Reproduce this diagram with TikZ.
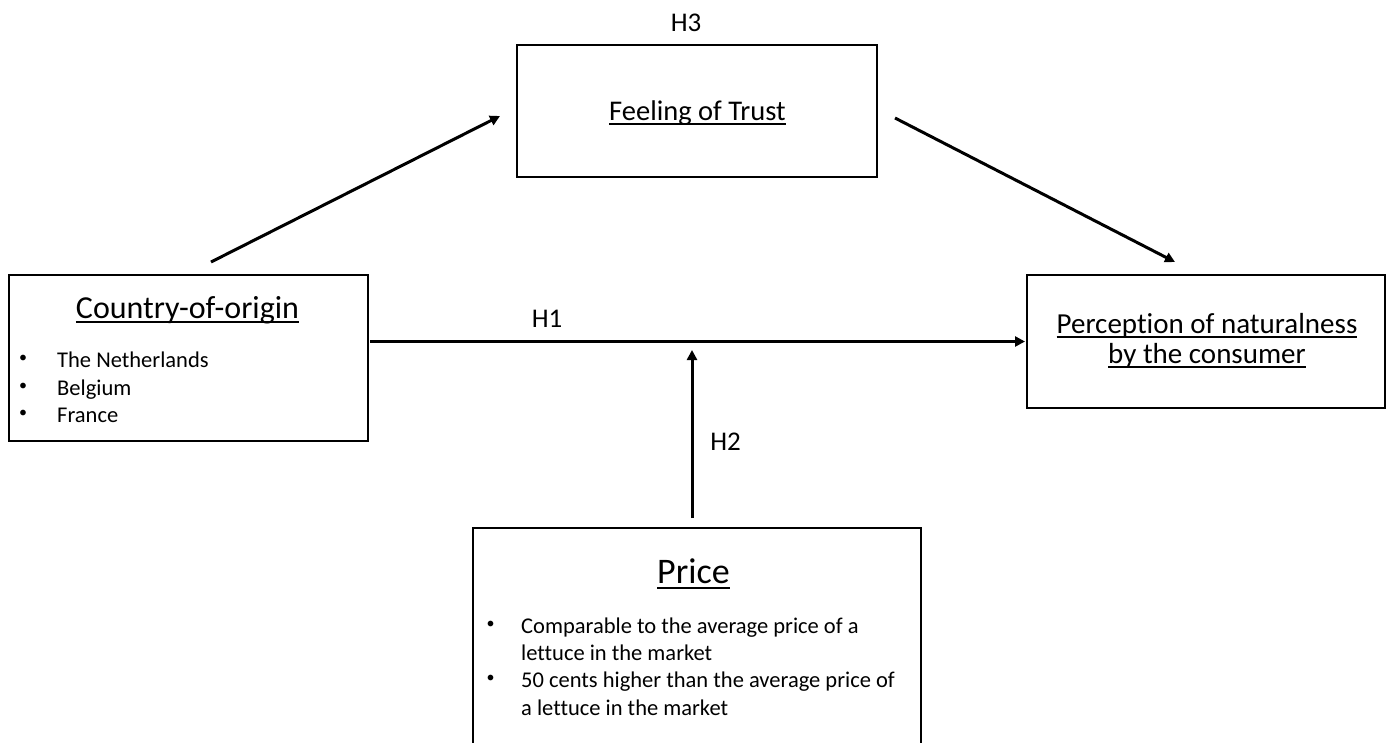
\documentclass[tikz,border=0pt]{standalone}
\usepackage{fontspec}
\setmainfont{Carlito}[Ligatures={NoCommon}]
\usetikzlibrary{arrows.meta}
\newcommand\ulx[1]{\setbox0=\hbox{#1}\rlap{\rule[-0.165em]{\wd0}{0.065em}}\box0}
\begin{document}
\begin{tikzpicture}[x=1pt,y=-1pt,
  box/.style={draw, line width=1.6pt, inner sep=0pt},
  conn/.style={line width=3pt, -{Triangle[length=10pt,width=10pt]}},
  lbl/.style={inner sep=0pt, anchor=base, font=\fontsize{27}{32}\selectfont},
  ttl/.style={inner sep=0pt, anchor=base},
  bul/.style={inner sep=0pt, anchor=base west, font=\fontsize{22.5}{26}\selectfont},
  dot/.style={inner sep=0pt, font=\fontsize{16}{18}\selectfont}]
\clip (0,0) rectangle (1392,742);
\useasboundingbox (0,0) rectangle (1392,742);
% boxes
\node[box, minimum width=359pt, minimum height=166pt] (coo) at (188.5,358) {};
\node[box, minimum width=360pt, minimum height=132pt] (trust) at (697,111) {};
\node[box, minimum width=358pt, minimum height=133pt] (perc) at (1206,341.5) {};
\node[box, minimum width=448pt, minimum height=240pt] (price) at (697,648) {};
% texts
\node[lbl] (h3) at (686,31) {H3};
\node[ttl, font=\fontsize{28.5}{32}\selectfont] (trustt) at (697.5,120) {\ulx{Feeling of Trust}};
\node[ttl, font=\fontsize{32}{36}\selectfont] (coot) at (187.5,318) {\ulx{Country-of-origin}};
\node[dot] (cb1) at (23,359) {\textbullet}; \node[bul] (ct1) at (57,367) {The Netherlands};
\node[dot] (cb2) at (23,387) {\textbullet}; \node[bul] (ct2) at (57,395) {Belgium};
\node[dot] (cb3) at (23,414) {\textbullet}; \node[bul] (ct3) at (57,422) {France};
\node[ttl, font=\fontsize{29}{32}\selectfont] (pt1) at (1207,333) {\ulx{Perception of naturalness}};
\node[ttl, font=\fontsize{29}{32}\selectfont] (pt2) at (1207,363) {\ulx{by the consumer}};
\node[lbl] (h1) at (547,327) {H1};
\node[lbl] (h2) at (725.5,450) {H2};
\node[ttl, font=\fontsize{36}{40}\selectfont] (pricet) at (693.5,583) {\ulx{Price}};
\node[dot] (pb1) at (490.5,625) {\textbullet}; \node[bul] (ptx1) at (521,633) {Comparable to the average price of a};
\node[bul] (ptx2) at (521,660) {lettuce in the market};
\node[dot] (pb2) at (490.5,679) {\textbullet}; \node[bul] (ptx3) at (521,687) {50 cents higher than the average price of};
\node[bul] (ptx4) at (521,715) {a lettuce in the market};
% connector ends
\coordinate (a1s) at (211,262); \coordinate (a1e) at (500,116);
\coordinate (a2s) at (895,118); \coordinate (a2e) at (1175,262);
\coordinate (a3s) at (370,341.5); \coordinate (a3e) at (1025,341.5);
\coordinate (a4s) at (692,518); \coordinate (a4e) at (692,350);
\draw[conn] (a1s) -- (a1e);
\draw[conn] (a2s) -- (a2e);
\draw[conn] (a3s) -- (a3e);
\draw[conn] (a4s) -- (a4e);
\end{tikzpicture}
\end{document}
